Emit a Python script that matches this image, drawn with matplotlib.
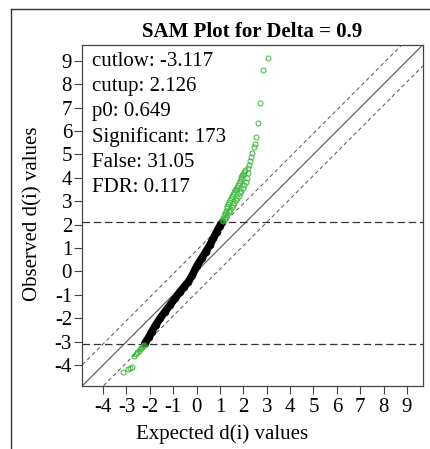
import matplotlib
matplotlib.use("Agg")
import matplotlib.pyplot as plt
from matplotlib.lines import Line2D

# SAM output values
delta = 0.9
cutlow = -3.117
cutup = 2.126
info_lines = ["cutlow: -3.117", "cutup: 2.126", "p0: 0.649",
              "Significant: 173", "False: 31.05", "FDR: 0.117"]
ticks = [-4, -3, -2, -1, 0, 1, 2, 3, 4, 5, 6, 7, 8, 9]

# non significant genes (black band)
exp_black = [-2.21, -2.05, -1.92, -1.75, -1.56, -1.35, -1.14, -0.92, -0.71, -0.53,
             -0.35, -0.18, 0.02, 0.22, 0.40, 0.57, 0.72, 0.86, 1.00, 1.10]
obs_black = [-3.07, -2.82, -2.58, -2.29, -2.00, -1.72, -1.44, -1.15, -0.87, -0.65,
             -0.44, -0.15, 0.25, 0.56, 0.85, 1.13, 1.42, 1.70, 1.95, 2.10]

# significant genes, upper tail (both edges of the dense part)
exp_up = [1.08, 1.12, 1.16, 1.20, 1.24, 1.28, 1.32, 1.36, 1.40, 1.44, 1.48, 1.52,
          1.56, 1.60, 1.64, 1.68, 1.72, 1.76, 1.80, 1.84, 1.88, 1.92, 1.96, 2.00,
          2.04, 2.08,
          1.14, 1.20, 1.26, 1.32, 1.38, 1.44, 1.50, 1.56, 1.62, 1.68, 1.74, 1.80,
          1.86, 1.92, 1.98, 2.04, 2.10, 2.14, 2.18, 2.22, 2.26, 2.30, 2.34, 2.38,
          2.44, 2.50, 2.52, 2.61, 2.72, 2.82, 3.07]
obs_up = [2.20, 2.30, 2.40, 2.50, 2.60, 2.69, 2.78, 2.87, 2.96, 3.05, 3.14, 3.22,
          3.30, 3.38, 3.46, 3.54, 3.62, 3.70, 3.78, 3.86, 3.94, 4.02, 4.10, 4.18,
          4.25, 4.32,
          2.14, 2.24, 2.34, 2.44, 2.54, 2.64, 2.74, 2.84, 2.94, 3.04, 3.14, 3.24,
          3.34, 3.44, 3.56, 3.68, 3.80, 4.00, 4.20, 4.40, 4.55, 4.72, 4.90, 5.05,
          5.33, 5.44, 5.73, 6.35, 7.18, 8.61, 9.13]

# significant genes, lower tail
exp_low = [-3.16, -2.93, -2.85, -2.77, -2.66, -2.60, -2.54, -2.48, -2.43, -2.38,
           -2.33, -2.28, -2.24]
obs_low = [-4.31, -4.16, -4.13, -4.08, -3.60, -3.53, -3.46, -3.38, -3.31, -3.26,
           -3.21, -3.17, -3.13]

plt.rcParams['font.family'] = ['Liberation Serif', 'DejaVu Serif']
plt.rcParams['axes.unicode_minus'] = False
green = '#3db83d'
fs = 15

fig = plt.figure(figsize=(4.31, 4.49), dpi=100)
ax = fig.add_axes([0.1914, 0.141, 0.7893, 0.7587])

lim = (-4.88, 9.67)
ax.set_xlim(lim)
ax.set_ylim(lim)

# reference lines
ax.axline((0, 0), slope=1, color='#555555', lw=0.8)
ax.axline((0, delta), slope=1, color='#555555', lw=0.7, ls=(0, (4, 3)))
ax.axline((0, -delta), slope=1, color='#555555', lw=0.7, ls=(0, (4, 3)))
ax.axhline(cutup, color='#333333', lw=0.9, ls=(0, (6, 3)))
ax.axhline(cutlow, color='#333333', lw=0.9, ls=(0, (6, 3)))

# points
ax.plot(exp_black, obs_black, color='black', lw=5.5, solid_capstyle='round')
ax.plot(exp_black, obs_black, 'o', mfc='none', mec='black', ms=4.5, mew=0.9)
ax.plot(exp_up, obs_up, 'o', mfc='none', mec=green, ms=3.6, mew=0.7)
ax.plot(exp_low, obs_low, 'o', mfc='none', mec=green, ms=3.6, mew=0.7)

# text block
for k, s in enumerate(info_lines):
    ax.text(92.3, 449 - 61.5 - 25.2 * k, s, transform=None, fontsize=fs,
            va='center', ha='left')

ax.set_xticks(ticks)
ax.set_yticks(ticks)
ax.tick_params(direction='out', length=6, width=0.8, labelsize=fs,
               color='#444444', pad=1.5)
ax.tick_params(axis='x', pad=3)
for sp in ax.spines.values():
    sp.set_color('#444444')
    sp.set_linewidth(0.9)

ax.set_title('SAM Plot for Delta = 0.9', fontsize=fs, fontweight='bold', pad=6)
fig.text(222 / 431, 1 - 434 / 449, 'Expected d(i) values', fontsize=fs,
         ha='center', va='center')
fig.text(33 / 431, 1 - 213.5 / 449, 'Observed d(i) values', fontsize=fs,
         ha='center', va='center', rotation=90)

# outer frame (top and left edge only)
fig.add_artist(Line2D([11 / 431, 1.0], [1 - 8.5 / 449, 1 - 8.5 / 449],
                      color='#333333', lw=1.0, transform=fig.transFigure))
fig.add_artist(Line2D([11.5 / 431, 11.5 / 431], [0.0, 1 - 8.5 / 449],
                      color='#333333', lw=1.0, transform=fig.transFigure))

fig.savefig('out.png', dpi=100)
